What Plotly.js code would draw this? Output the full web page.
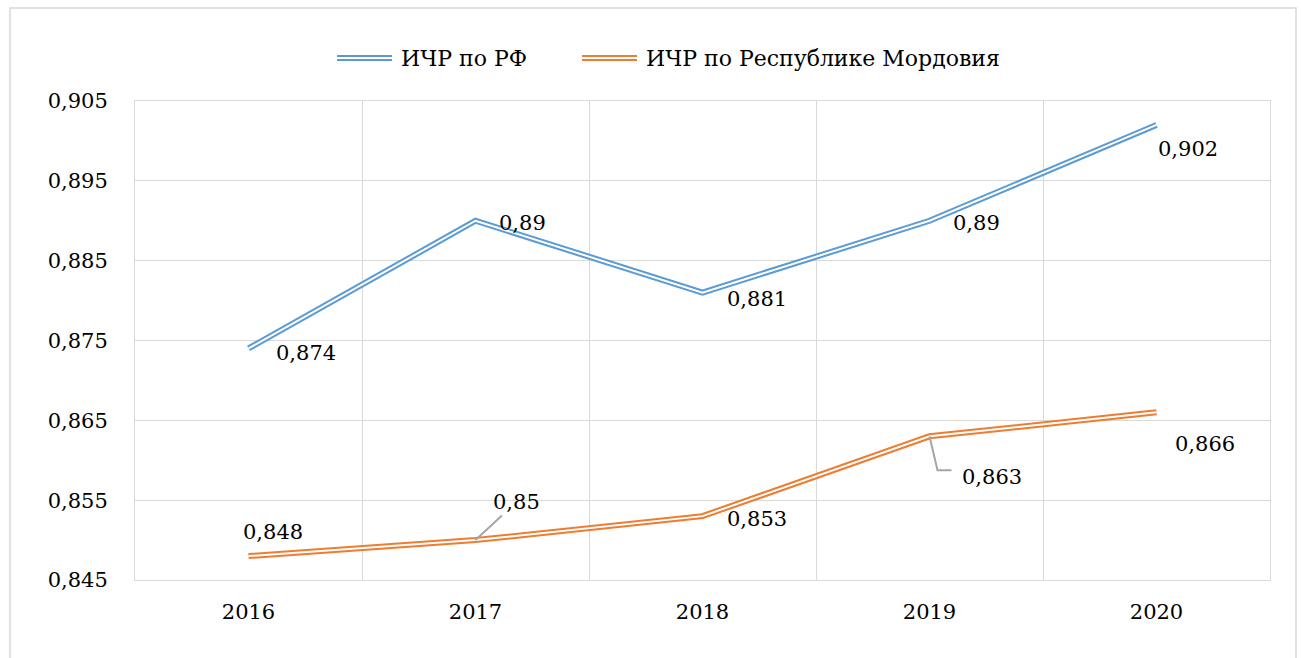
<!DOCTYPE html>
<html>
<head>
<meta charset="utf-8">
<script src="https://cdn.plot.ly/plotly-3.0.1.min.js"></script>
<style>html,body{margin:0;padding:0;background:#fff;}</style>
</head>
<body>
<div id="chart" style="width:1301px;height:658px;"></div>
<script>
// ---- data ----
const years = ['2016', '2017', '2018', '2019', '2020'];
const seriesRF = [0.874, 0.89, 0.881, 0.89, 0.902];
const seriesMordovia = [0.848, 0.85, 0.853, 0.863, 0.866];
const nameRF = 'ИЧР по РФ';
const nameMordovia = 'ИЧР по Республике Мордовия';
const yTicks = [0.845, 0.855, 0.865, 0.875, 0.885, 0.895, 0.905];

// ---- style (label offsets in pixels) ----
const offRF = [[57, -5], [47, -2], [54, -6], [47, -2], [31, -24]];
const offMO = [[24, 24], [41, 38], [54, -3], [62, -41], [48, -32]];
const blue = '#5b9bd5', orange = '#ed7d31', gray = '#a6a6a6';
const FONT = 'DejaVu Serif';
const fmt = v => String(v).replace('.', ',');

function doubleLine(y, color, name) {
  return [
    {x: years, y: y, type: 'scatter', mode: 'lines', name: name, showlegend: false,
     line: {color: color, width: 6}, hoverinfo: 'skip'},
    {x: years, y: y, type: 'scatter', mode: 'lines', showlegend: false,
     line: {color: '#ffffff', width: 2}, hoverinfo: 'skip'}
  ];
}
const traces = [...doubleLine(seriesRF, blue, nameRF), ...doubleLine(seriesMordovia, orange, nameMordovia)];

const annotations = [];
seriesRF.forEach((v, i) => annotations.push({
  xref: 'x', yref: 'y', x: i, y: v, text: fmt(v), showarrow: false,
  xshift: offRF[i][0], yshift: offRF[i][1], font: {family: FONT, size: 21, color: '#000'}
}));
seriesMordovia.forEach((v, i) => {
  if (i === 1) {
    annotations.push({
      xref: 'x', yref: 'y', x: i, y: v, text: fmt(v), showarrow: true, arrowhead: 0, arrowwidth: 2,
      arrowcolor: gray, ax: offMO[i][0], ay: -offMO[i][1], standoff: 0,
      font: {family: FONT, size: 21, color: '#000'}
    });
  } else {
    annotations.push({
      xref: 'x', yref: 'y', x: i, y: v, text: fmt(v), showarrow: false,
      xshift: offMO[i][0], yshift: offMO[i][1], font: {family: FONT, size: 21, color: '#000'}
    });
  }
});

// custom legend with double-line symbols
const px = p => (p - 135) / 1135, py = p => (580 - p) / 479;
const legendItems = [[nameRF, blue, 337], [nameMordovia, orange, 582]];
const shapes = [
  {type: 'rect', xref: 'paper', yref: 'paper', x0: px(10), x1: px(1296), y0: py(662), y1: py(8),
   line: {color: '#d9d9d9', width: 1.5}, layer: 'below'},
  {type: 'path', xref: 'x', yref: 'y', xsizemode: 'pixel', ysizemode: 'pixel',
   xanchor: 3, yanchor: seriesMordovia[3], path: 'M0,0 L8,-34 L22,-34',
   line: {color: gray, width: 2}}
];
legendItems.forEach(([name, color, x0]) => {
  shapes.push({type: 'line', xref: 'paper', yref: 'paper', x0: px(x0), x1: px(x0 + 55), y0: py(58), y1: py(58),
               line: {color: color, width: 6}});
  shapes.push({type: 'line', xref: 'paper', yref: 'paper', x0: px(x0), x1: px(x0 + 55), y0: py(58), y1: py(58),
               line: {color: '#ffffff', width: 2}});
  annotations.push({xref: 'paper', yref: 'paper', x: px(x0 + 62), y: py(58), xanchor: 'left', yanchor: 'middle',
                    text: name, showarrow: false, font: {family: FONT, size: 22, color: '#000'}});
});

const layout = {
  width: 1301, height: 658,
  margin: {l: 135, r: 31, t: 101, b: 78},
  paper_bgcolor: '#fff', plot_bgcolor: '#fff',
  separators: ', ',
  showlegend: false,
  font: {family: FONT, size: 21, color: '#000'},
  xaxis: {type: 'category', range: [-0.5, 4.5], tickson: 'boundaries', showgrid: true, gridcolor: '#d9d9d9',
          gridwidth: 1, showline: true, linecolor: '#d9d9d9', mirror: true, ticks: '', zeroline: false,
          ticklabelstandoff: 13, fixedrange: true},
  yaxis: {range: [0.845, 0.905], tickvals: yTicks, tickformat: '.3f', showgrid: true, gridcolor: '#d9d9d9',
          showline: true, linecolor: '#d9d9d9', mirror: true, ticks: '', zeroline: false,
          ticklabelstandoff: 22, fixedrange: true},
  annotations: annotations,
  shapes: shapes
};
Plotly.newPlot('chart', traces, layout, {displayModeBar: false, staticPlot: true});
</script>
</body>
</html>
